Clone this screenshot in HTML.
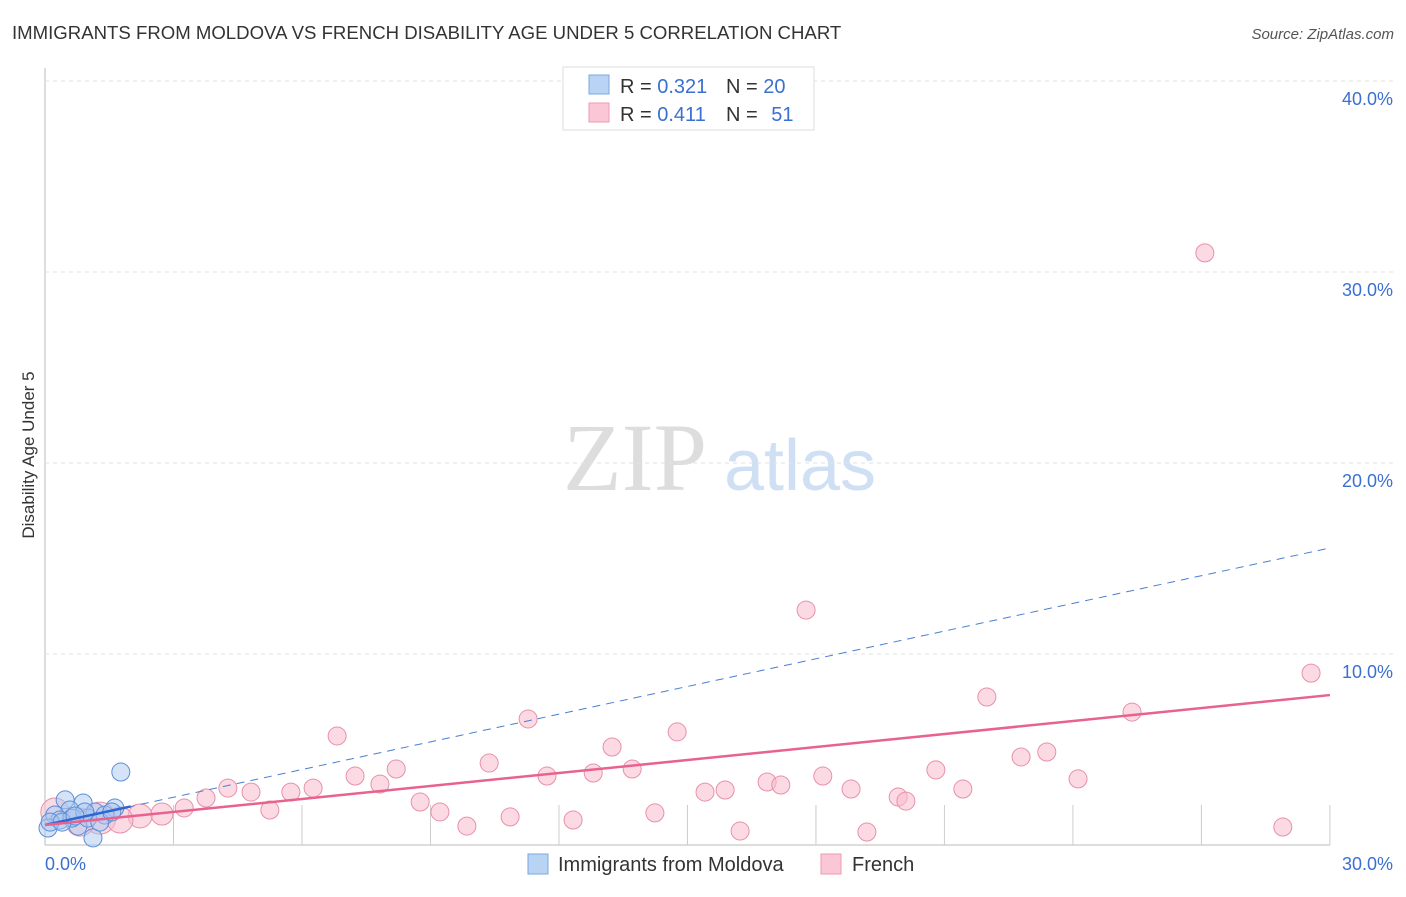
<!DOCTYPE html>
<html><head><meta charset="utf-8"><style>
body{margin:0;background:#fff;font-family:"Liberation Sans",sans-serif}
</style></head><body>
<svg width="1406" height="892" xmlns="http://www.w3.org/2000/svg" font-family="Liberation Sans, sans-serif">
<text x="12" y="39" font-size="18.6" fill="#333">IMMIGRANTS FROM MOLDOVA VS FRENCH DISABILITY AGE UNDER 5 CORRELATION CHART</text>
<text x="1394" y="39" font-size="15" fill="#555" text-anchor="end" font-style="italic">Source: ZipAtlas.com</text>
<text transform="translate(34,455) rotate(-90)" font-size="17" fill="#333" text-anchor="middle">Disability Age Under 5</text>
<g><text x="635" y="490" font-size="96" fill="#ddd" font-family="Liberation Serif, serif" text-anchor="middle">ZIP</text><text x="800" y="490" font-size="72" fill="#cfe0f5" text-anchor="middle">atlas</text></g>
<g id="grid"></g><g id="marks"></g>
<g>
<rect x="563" y="67" width="251" height="63" fill="#fff" stroke="#ddd"/>
<rect x="589" y="75" width="20" height="19" fill="#b9d3f5" stroke="#7aa7e0"/>
<rect x="589" y="103" width="20" height="19" fill="#fbc7d6" stroke="#ee9ab3"/>
<text x="620" y="93" font-size="20" fill="#333">R = <tspan fill="#3b6fd1">0.321</tspan></text>
<text x="726" y="93" font-size="20" fill="#333">N = <tspan fill="#3b6fd1">20</tspan></text>
<text x="620" y="121" font-size="20" fill="#333">R = <tspan fill="#3b6fd1">0.411</tspan></text>
<text x="726" y="121" font-size="20" fill="#333">N = <tspan fill="#3b6fd1" dx="8">51</tspan></text>
</g>
<g>
<rect x="528" y="854" width="20" height="20" fill="#b9d3f5" stroke="#7aa7e0"/>
<text x="558" y="871" font-size="20" fill="#333">Immigrants from Moldova</text>
<rect x="821" y="854" width="20" height="20" fill="#fbc7d6" stroke="#ee9ab3"/>
<text x="852" y="871" font-size="20" fill="#333">French</text>
</g>
</svg>
<script>
const yTicks=[10,20,30,40];
const yTickLabels=["10.0%","20.0%","30.0%","40.0%"];
const xTicks=[3,6,9,12,15,18,21,24,27,30];
const pinkX=[27.08,17.77,29.56,21.99,25.38,11.28,14.76,6.82,13.24,23.39,22.79,10.37,8.2,20.8,7.24,11.72,18.16,12.8,13.71,24.12,16.86,17.18,7.82,4.27,4.81,5.74,6.26,18.82,21.43,15.88,15.41,19.92,20.1,3.76,8.76,3.25,5.25,9.22,2.73,2.22,10.86,14.24,12.33,9.85,16.23,19.19,28.9,0.23,1.28,1.75,0.82];
const pinkY=[31.0,12.3,9.0,7.75,6.96,6.6,5.92,5.71,5.13,4.87,4.61,4.29,3.98,3.93,3.61,3.61,3.61,3.77,3.98,3.46,3.3,3.14,3.19,2.98,2.77,2.77,2.98,2.93,2.93,2.88,2.77,2.51,2.3,2.46,2.25,1.94,1.83,1.73,1.62,1.52,1.47,1.68,1.31,0.99,0.73,0.68,0.94,1.73,1.41,1.31,1.2];
const pinkR=[9,9,9,9,9,9,9,9,9,9,9,9,9,9,9,9,9,9,9,9,9,9,9,9,9,9,9,9,9,9,9,9,9,9,9,9,9,9,11,12,9,9,9,9,9,9,9,14,16,13,14];
const blueX=[1.77,0.47,0.89,1.63,0.58,1.17,0.23,0.35,0.77,1.12,0.07,0.12,1.0,1.4,0.63,0.4,1.28,1.56,0.93,0.7];
const blueY=[3.82,2.36,2.2,1.94,1.83,1.73,1.57,1.31,0.99,0.37,0.89,1.2,1.41,1.57,1.41,1.2,1.2,1.73,1.73,1.52];
const pinkTrend=[1.05,7.85];
const blueTrend=[1.05,15.55];
const X=v=>45+v*42.83, Y=v=>845-v*19.1;
const NS="http://www.w3.org/2000/svg";
const grid=document.getElementById('grid'), marks=document.getElementById('marks');
function mk(tag,attrs,parent){const e=document.createElementNS(NS,tag);for(const k in attrs)e.setAttribute(k,attrs[k]);parent.appendChild(e);return e;}
let ax=mk('line',{x1:45,y1:68,x2:45,y2:845,stroke:'#bbb'},grid);


let bx=mk('line',{x1:45,y1:845,x2:1330,y2:845,stroke:'#bbb'},grid);


yTicks.forEach((t,i)=>{
 let g=mk('line',{x1:45,x2:1395,y1:Y(t),y2:Y(t),stroke:'#e2e2e2','stroke-dasharray':'4,4'},grid);
 
 
 let l=mk('text',{x:1393,y:Y(t)+24,'font-size':18,fill:'#3b6fd1','text-anchor':'end'},grid);l.textContent=yTickLabels[i];
 
 
});
xTicks.forEach(t=>{let k=mk('line',{x1:X(t),x2:X(t),y1:805,y2:845,stroke:'#ccc'},grid);
 
 });
let x0=mk('text',{x:45,y:870,'font-size':18,fill:'#3b6fd1'},grid);x0.textContent='0.0%';


let x1=mk('text',{x:1393,y:870,'font-size':18,fill:'#3b6fd1','text-anchor':'end'},grid);x1.textContent='30.0%';


pinkX.forEach((v,i)=>{let c=mk('circle',{cx:X(v),cy:Y(pinkY[i]),r:pinkR[i],fill:'#f7bccd','fill-opacity':0.55,stroke:'#e890aa'},marks);
 
 });
blueX.forEach((v,i)=>{let c=mk('circle',{cx:X(v),cy:Y(blueY[i]),r:9,fill:'#a9c8f0','fill-opacity':0.5,stroke:'#5a8fd8'},marks);
 
 });
let bd=mk('line',{x1:X(0),y1:Y(blueTrend[0]),x2:X(30),y2:Y(blueTrend[1]),stroke:'#4a7fd0','stroke-width':1,'stroke-dasharray':'8,6'},marks);


let bs=mk('line',{x1:X(0),y1:Y(blueTrend[0]),x2:X(2),y2:Y(blueTrend[0]+(blueTrend[1]-blueTrend[0])*2/30),stroke:'#2f66d0','stroke-width':2.5},marks);


let pt=mk('line',{x1:X(0),y1:Y(pinkTrend[0]),x2:X(30),y2:Y(pinkTrend[1]),stroke:'#e8628f','stroke-width':2.5},marks);


</script>
</body></html>
